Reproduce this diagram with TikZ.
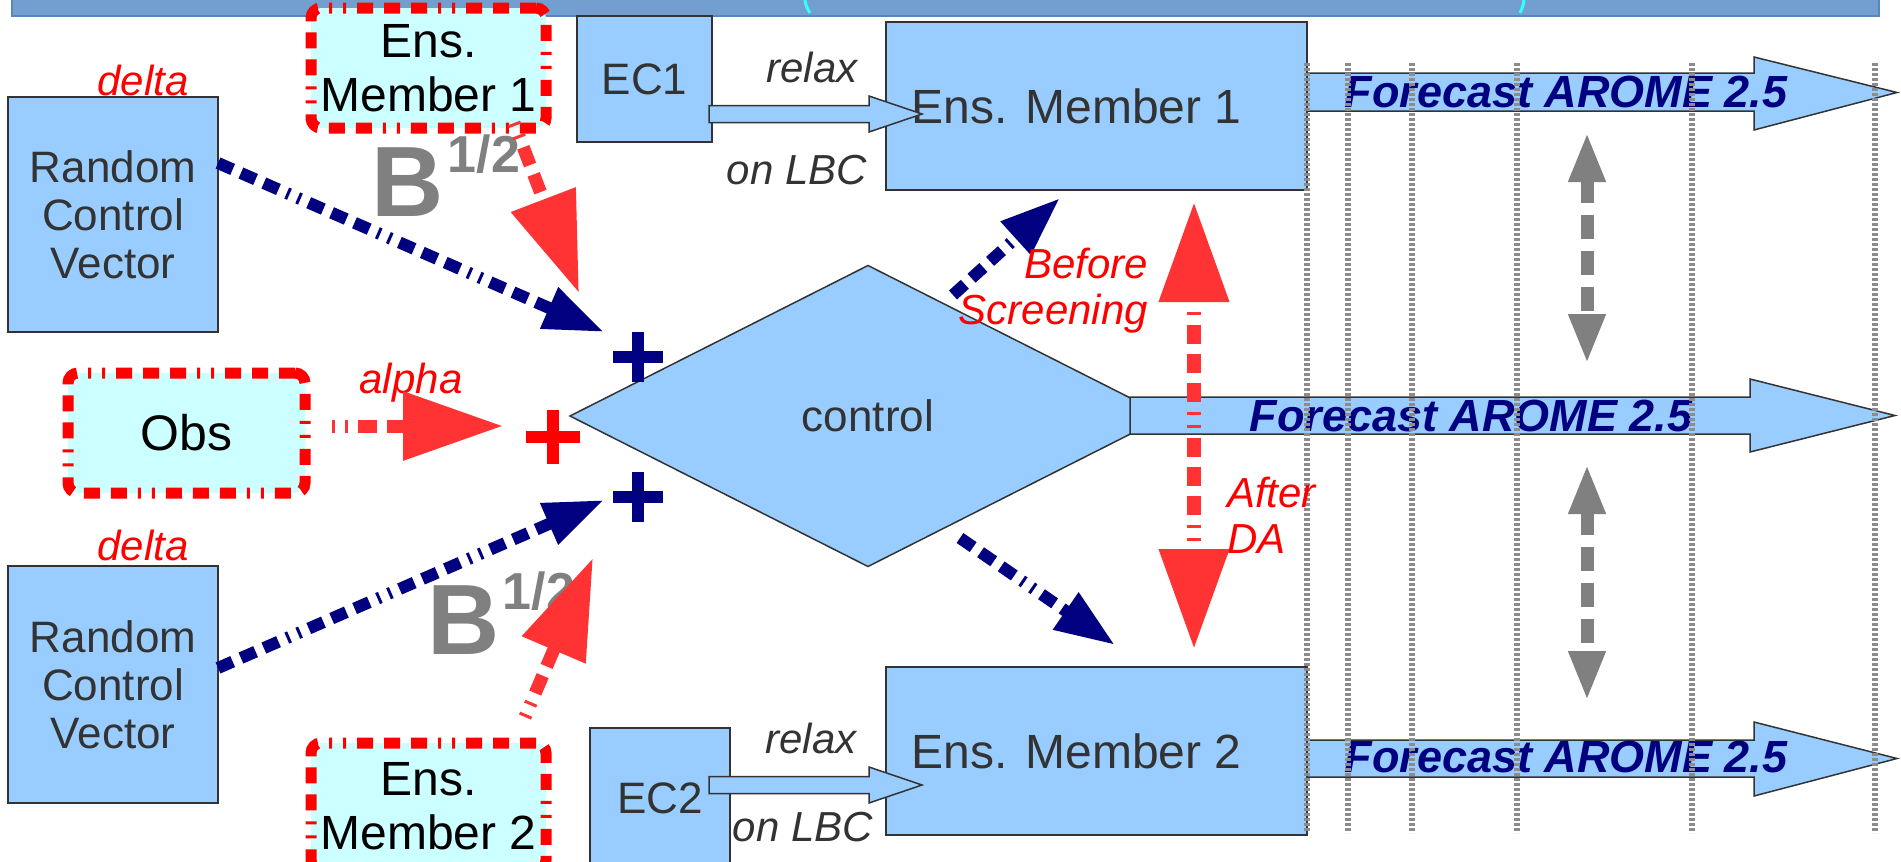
\documentclass[tikz,border=0pt]{standalone}
\usepackage{fontspec}
\setmainfont{Liberation Sans}
\usetikzlibrary{arrows.meta,shapes.geometric}

\definecolor{boxblue}{HTML}{99CCFF}
\definecolor{boxline}{HTML}{333333}
\definecolor{txtgrey}{HTML}{333333}
\definecolor{navy}{HTML}{000080}
\definecolor{arrred}{HTML}{FF3333}
\definecolor{lblred}{HTML}{FF0000}
\definecolor{obscyan}{HTML}{CCFFFF}
\definecolor{bannerblue}{HTML}{729FCF}
\definecolor{bannerline}{HTML}{5A86B8}
\definecolor{bgrey}{HTML}{808080}
\definecolor{dotgrey}{HTML}{8C8C8C}
\definecolor{parencyan}{HTML}{33FFFF}

\newcommand{\fsz}[2]{\fontsize{#1}{#2}\selectfont}

\begin{document}
\begin{tikzpicture}[x=1pt,y=-1pt,
  every node/.style={inner sep=0pt, outer sep=0pt},
  bluebox/.style={draw=boxline, line width=2pt, fill=boxblue, text=txtgrey,
    align=center, font=\fsz{44}{48}},
  redbox/.style={draw=lblred, fill=obscyan, line width=11pt, rounded corners=10pt,
    dash pattern=on 16pt off 11pt on 16pt off 11pt on 16pt off 11pt on 3pt off 11pt on 3pt off 11pt,
    text=black, align=center, font=\fsz{48}{54}},
  redlbl/.style={text=lblred, font=\fsz{42}{46}\itshape},
  greylbl/.style={text=txtgrey, font=\fsz{42}{46}\itshape},
  fctext/.style={text=navy, font=\fsz{45}{50}\bfseries\itshape},
  bsym/.style={text=bgrey, font=\fsz{100}{100}\bfseries},
  bexp/.style={text=bgrey, font=\fsz{52}{52}\bfseries},
  blockarrow/.style={draw=boxline, line width=1.5pt, fill=boxblue, line join=miter},
  dotline/.style={draw=dotgrey, line width=6pt, dash pattern=on 3pt off 2pt},
  plusbar/.style={line width=12pt},
  navyarr/.style={draw=navy, line width=12pt,
    dash pattern=on 16pt off 9pt on 16pt off 9pt on 16pt off 9pt on 3pt off 9pt on 3pt off 9pt,
    -{Triangle[length=60pt,width=42pt]}},
  redarr/.style={draw=arrred, line width=13pt,
    dash pattern=on 3pt off 10pt on 3pt off 10pt on 19pt off 10pt on 19pt off 10pt on 19pt off 10pt,
    -{Triangle[length=100pt,width=66pt]}},
  redboth/.style={draw=arrred, line width=14pt,
    dash pattern=on 3pt off 10pt on 3pt off 10pt on 19pt off 10pt on 19pt off 10pt on 19pt off 10pt,
    {Triangle[length=100pt,width=67pt]}-{Triangle[length=100pt,width=67pt]}},
  greyboth/.style={draw=bgrey, line width=13pt, dash pattern=on 24pt off 12pt,
    {Triangle[length=50pt,width=34pt]}-{Triangle[length=50pt,width=34pt]}}
]
\useasboundingbox (0,0) rectangle (1901,862);
\clip (0,0) rectangle (1901,862);

% title strip along the top edge
\fill[bannerblue] (12,-5) rectangle (1879,16);
\draw[bannerline, line width=1.5pt] (12,-5) -- (12,16) -- (1879,16) -- (1879,-5);
\draw[parencyan, line width=3pt] (805,0) .. controls (806,6) .. (810,13);
\draw[parencyan, line width=3pt] (1524,0) .. controls (1523,6) .. (1520,13);

% boxes
\node[bluebox, minimum width=210pt, minimum height=235pt] (rcv1) at (113,214.5)
  {Random\\Control\\Vector};
\node[bluebox, minimum width=210pt, minimum height=237pt] (rcv2) at (113,684.5)
  {Random\\Control\\Vector};
\node[bluebox, minimum width=135pt, minimum height=126pt] (ec1) at (644.5,79) {EC1};
\node[bluebox, minimum width=140pt, minimum height=152pt] (ec2) at (660,804)
  {\raisebox{11pt}{EC2}};
\node[bluebox, font=\fsz{48}{52}, minimum width=421pt, minimum height=168pt] (m1) at (1096.5,106)
  {Ens. Member 1\hspace*{40pt}};
\node[bluebox, font=\fsz{48}{52}, minimum width=421pt, minimum height=168pt] (m2) at (1096.5,751)
  {Ens. Member 2\hspace*{40pt}};
\node[diamond, draw=boxline, line width=1.5pt, fill=boxblue, text=txtgrey,
  font=\fsz{44}{48}, minimum width=596pt, minimum height=301pt] (ctl) at (868,416) {control};

\node[redbox, minimum width=235pt, minimum height=120pt] (ens1) at (428.5,68)
  {Ens.\\Member 1};
\node[redbox, minimum width=235pt, minimum height=127pt] (ens2) at (428.5,806.5)
  {Ens.\\Member 2};
\node[redbox, font=\fsz{50}{54}, minimum width=237pt, minimum height=120pt] (obs) at (186.5,433) {Obs};

% forecast arrows
\draw[blockarrow] (1307,73) -- (1754,73) -- (1754,57) -- (1897,92.5) -- (1754,130)
  -- (1754,111) -- (1307,111) -- cycle;
\draw[blockarrow] (1130,397) -- (1750,397) -- (1750,379) -- (1895,415.5) -- (1750,452)
  -- (1750,434) -- (1130,434) -- cycle;
\draw[blockarrow] (1307,740) -- (1754,740) -- (1754,722) -- (1897,758.5) -- (1754,796)
  -- (1754,777) -- (1307,777) -- cycle;
\node[fctext] (fc1) at (1566,92) {Forecast AROME 2.5};
\node[fctext] (fc2) at (1471,416) {Forecast AROME 2.5};
\node[fctext] (fc3) at (1566,757) {Forecast AROME 2.5};

% relaxation arrows from the coupling files
\draw[blockarrow] (709,105.5) -- (869,105.5) -- (869,96) -- (922,114) -- (869,132)
  -- (869,122.5) -- (709,122.5) -- cycle;
\draw[blockarrow] (709,776.5) -- (869,776.5) -- (869,767) -- (922,785) -- (869,803)
  -- (869,793.5) -- (709,793.5) -- cycle;
\node[greylbl] (rx1) at (812,67) {relax};
\node[greylbl] (lbc1) at (797,170) {on LBC};
\node[greylbl] (rx2) at (811,738) {relax};
\node[greylbl] (lbc2) at (803,827) {on LBC};

% forecast time lines
\foreach \xx in {1307,1348,1412,1517,1692,1875}
  \draw[dotline] (\xx,63) -- (\xx,833);

% spread between forecasts
\coordinate (g1a) at (1587,132);
\coordinate (g1b) at (1587,364);
\coordinate (g2a) at (1587,464);
\coordinate (g2b) at (1587,701);
\draw[greyboth] (g1a) -- (g1b);
\draw[greyboth] (g2a) -- (g2b);

% labels
\node[redlbl] (d1) at (143,80) {delta};
\node[redlbl] (d2) at (143,545) {delta};
\node[redlbl] (al) at (411,383) {alpha};
\node[bsym] (b1) at (408,182) {B};
\node[bexp] (b1e) at (484,154) {1/2};
\node[bsym] (b2) at (464,620) {B};
\node[bexp] (b2e) at (539,591) {1/2};

% perturbation arrows
\coordinate (n1s) at (218,163);
\coordinate (n1t) at (604,332);
\coordinate (n2s) at (218,668);
\coordinate (n2t) at (604,500);
\coordinate (n3s) at (953,295);
\coordinate (n3t) at (1060,198);
\coordinate (n4s) at (960,538);
\coordinate (n4t) at (1115,645);
\draw[navyarr] (n1s) -- (n1t);
\draw[navyarr] (n2s) -- (n2t);
\draw[navyarr] (n3s) -- (n3t);
\draw[navyarr] (n4s) -- (n4t);

\coordinate (r1s) at (514,123);
\coordinate (r1t) at (579,293);
\coordinate (r2s) at (525,717);
\coordinate (r2t) at (593,558);
\coordinate (r3s) at (332,426);
\coordinate (r3t) at (503,426);
\coordinate (r4a) at (1194,202);
\coordinate (r4b) at (1194,649);
\draw[redarr] (r1s) -- (r1t);
\draw[redarr] (r2s) -- (r2t);
\draw[redarr] (r3s) -- (r3t);
\draw[redboth] (r4a) -- (r4b);

% sums
\draw[plusbar, navy] (613,357) -- (663,357) (638,332) -- (638,382);
\draw[plusbar, navy] (613,497) -- (663,497) (638,472) -- (638,522);
\draw[plusbar, lblred] (526,437) -- (580,437) (553,410) -- (553,464);

\node[redlbl, align=right, anchor=east] (bs) at (1148,290.5) {Before\\Screening};
\node[redlbl, align=left, anchor=west] (ad) at (1227,515) {After\\DA};
\end{tikzpicture}
\end{document}
